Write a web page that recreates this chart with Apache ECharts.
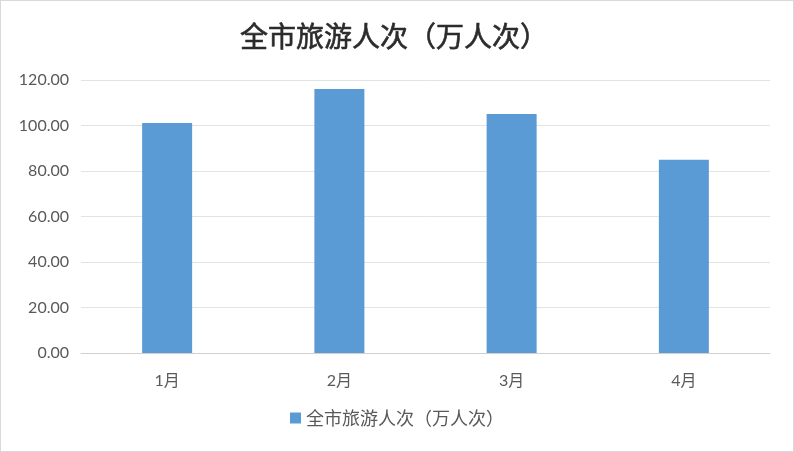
<!DOCTYPE html>
<html>
<head>
<meta charset="utf-8">
<script src="https://cdn.jsdelivr.net/npm/echarts@6/dist/echarts.min.js"></script>
<style>
html,body{margin:0;padding:0;background:#fff;}
#c{width:794px;height:452px;box-sizing:border-box;border:1px solid #d9d9d9;}
</style>
</head>
<body>
<div id="c"></div>
<script>
const titleText = '全市旅游人次（万人次）';
const seriesName = '全市旅游人次（万人次）';
const categories = ['1月', '2月', '3月', '4月'];
const values = [101.1, 116.0, 105.1, 84.9];
const yMin = 0, yMax = 120, yStep = 20;

const chart = echarts.init(document.getElementById('c'), null, {renderer: 'canvas'});
chart.setOption({
  animation: false,
  backgroundColor: '#fff',
  title: {
    text: titleText,
    left: 234,
    top: 16,
    textStyle: {
      fontFamily: 'Noto Sans CJK SC',
      fontSize: 28,
      fontWeight: 'normal',
      color: '#2b2b2b',
      textBorderColor: '#2b2b2b',
      textBorderWidth: 0.6
    }
  },
  legend: {
    bottom: 19,
    left: 'center',
    itemWidth: 11,
    itemHeight: 11,
    itemGap: 7,
    icon: 'rect',
    textStyle: {
      fontFamily: 'Noto Sans CJK SC',
      fontSize: 18,
      color: '#595959'
    },
    data: [seriesName]
  },
  grid: {left: 80, right: 23, top: 79, bottom: 98, containLabel: false},
  xAxis: {
    type: 'category',
    data: categories,
    axisLine: {lineStyle: {color: '#d0d0d0', width: 1}},
    axisTick: {show: false},
    axisLabel: {
      margin: 20,
      fontFamily: 'Lato, Noto Sans CJK SC',
      fontSize: 16,
      color: '#595959'
    }
  },
  yAxis: {
    type: 'value',
    min: yMin,
    max: yMax,
    interval: yStep,
    axisLine: {show: false},
    axisTick: {show: false},
    splitLine: {lineStyle: {color: '#e3e3e3', width: 1}},
    axisLabel: {
      margin: 12,
      fontFamily: 'Lato',
      fontSize: 16,
      color: '#595959',
      formatter: v => v.toFixed(2)
    }
  },
  series: [{
    name: seriesName,
    type: 'bar',
    data: values,
    barWidth: 50,
    itemStyle: {color: '#5b9bd5'}
  }]
});
</script>
</body>
</html>
